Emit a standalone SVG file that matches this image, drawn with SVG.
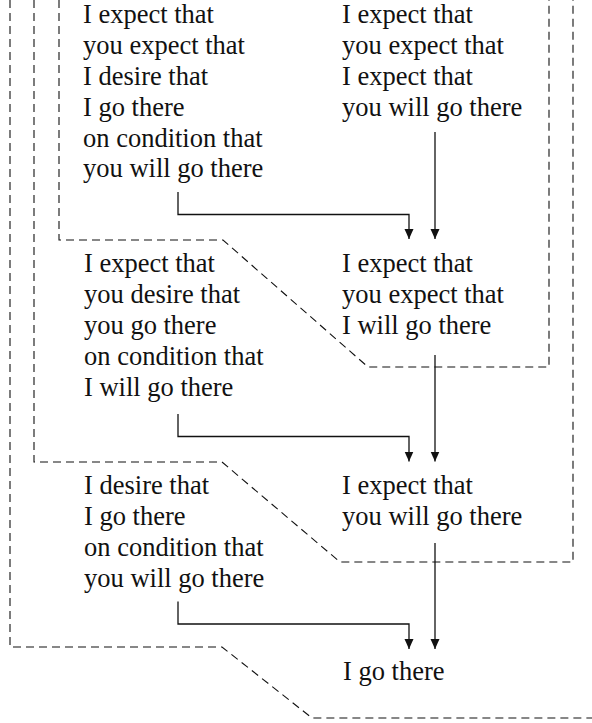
<svg xmlns="http://www.w3.org/2000/svg" width="592" height="723" viewBox="0 0 592 723">
<style>
  text { font-family: "Liberation Serif", "Times New Roman", serif; font-size: 26.5px; fill: #111; }
  .frame { fill: none; stroke: #111; stroke-width: 1.1; stroke-dasharray: 8 5; }
  .conn { fill: none; stroke: #111; stroke-width: 1.3; }
</style>
<defs>
  <marker id="arrow" markerUnits="userSpaceOnUse" markerWidth="10" markerHeight="12" viewBox="0 0 10 12" refX="10" refY="6" orient="auto">
    <path d="M0,1.5 L10,6 L0,10.5 Z" fill="#111"/>
  </marker>
</defs>
<rect width="592" height="723" fill="#fff"/>
<g id="frames">
  <path class="frame" d="M59,0 V240 H223 L368,367 H549 V0"/>
  <path class="frame" d="M34,0 V462 H222 L340,562 H573 V0"/>
  <path class="frame" d="M10,0 V647 H222 L312,718 H592"/>
</g>
<g id="node-a1">
  <text x="83" y="23.3">I expect that</text>
  <text x="83" y="54.1">you expect that</text>
  <text x="83" y="84.9">I desire that</text>
  <text x="83" y="115.7">I go there</text>
  <text x="83" y="146.5">on condition that</text>
  <text x="83" y="177.3">you will go there</text>
</g>
<g id="node-b1">
  <text x="342" y="23.3">I expect that</text>
  <text x="342" y="54.1">you expect that</text>
  <text x="342" y="84.9">I expect that</text>
  <text x="342" y="115.7">you will go there</text>
</g>
<g id="node-a2">
  <text x="84" y="271.5">I expect that</text>
  <text x="84" y="302.7">you desire that</text>
  <text x="84" y="333.9">you go there</text>
  <text x="84" y="365.1">on condition that</text>
  <text x="84" y="396.3">I will go there</text>
</g>
<g id="node-b2">
  <text x="342" y="271.5">I expect that</text>
  <text x="342" y="302.7">you expect that</text>
  <text x="342" y="333.9">I will go there</text>
</g>
<g id="node-a3">
  <text x="84" y="493.5">I desire that</text>
  <text x="84" y="524.7">I go there</text>
  <text x="84" y="555.9">on condition that</text>
  <text x="84" y="587.1">you will go there</text>
</g>
<g id="node-b3">
  <text x="342" y="493.5">I expect that</text>
  <text x="342" y="524.7">you will go there</text>
</g>
<g id="node-c">
  <text x="343" y="680">I go there</text>
</g>
<g id="connectors">
  <path class="conn" d="M178,192 V214.5 H409 V239" marker-end="url(#arrow)"/>
  <path class="conn" d="M435,132 V239" marker-end="url(#arrow)"/>
  <path class="conn" d="M178,414 V436.5 H409 V461.5" marker-end="url(#arrow)"/>
  <path class="conn" d="M435,355 V461.5" marker-end="url(#arrow)"/>
  <path class="conn" d="M178,601.5 V624 H409 V649" marker-end="url(#arrow)"/>
  <path class="conn" d="M435,543 V649" marker-end="url(#arrow)"/>
</g>
</svg>
